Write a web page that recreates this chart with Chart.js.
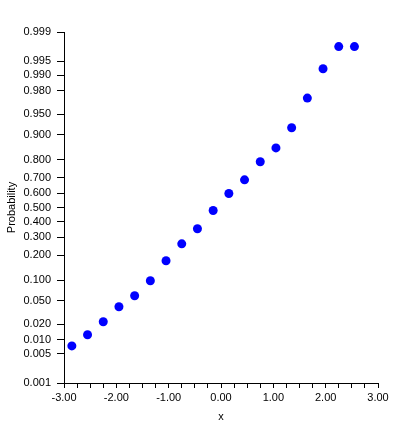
<!DOCTYPE html>
<html>
<head>
<meta charset="utf-8">
<script src="https://cdn.jsdelivr.net/npm/chart.js@4/dist/chart.umd.min.js"></script>
<style>
  html, body { margin: 0; padding: 0; background: #fff; }
  #wrap { width: 401px; height: 436px; }
</style>
</head>
<body>
<div id="wrap"><canvas id="myChart"></canvas></div>
<script>
// sample values (x) and their plotted probabilities
const xValues = [-2.85, -2.55, -2.25, -1.95, -1.65, -1.35, -1.05, -0.75, -0.45, -0.15,
  0.15, 0.45, 0.75, 1.05, 1.35, 1.65, 1.95, 2.25, 2.55];
const probValues = [0.0074, 0.0125, 0.0221, 0.0402, 0.060, 0.0985, 0.174, 0.261, 0.354, 0.479,
  0.597, 0.687, 0.790, 0.853, 0.920, 0.973, 0.9927, 0.9977, 0.9977];
const probTicks = [0.001, 0.005, 0.010, 0.020, 0.050, 0.100, 0.200, 0.300, 0.400, 0.500,
  0.600, 0.700, 0.800, 0.900, 0.950, 0.980, 0.990, 0.995, 0.999];

// inverse normal cdf (Acklam)
function probit(p) {
  const a = [-39.69683028665376, 220.9460984245205, -275.9285104469687, 138.3577518672690, -30.66479806614716, 2.506628277459239];
  const b = [-54.47609879822406, 161.5858368580409, -155.6989798598866, 66.80131188771972, -13.28068155288572];
  const c = [-0.007784894002430293, -0.3223964580411365, -2.400758277161838, -2.549732539343734, 4.374664141464968, 2.938163982698783];
  const d = [0.007784695709041462, 0.3224671290700398, 2.445134137142996, 3.754408661907416];
  const pl = 0.02425;
  let q, r;
  if (p < pl) {
    q = Math.sqrt(-2 * Math.log(p));
    return (((((c[0]*q+c[1])*q+c[2])*q+c[3])*q+c[4])*q+c[5]) / ((((d[0]*q+d[1])*q+d[2])*q+d[3])*q+1);
  }
  if (p > 1 - pl) {
    q = Math.sqrt(-2 * Math.log(1 - p));
    return -(((((c[0]*q+c[1])*q+c[2])*q+c[3])*q+c[4])*q+c[5]) / ((((d[0]*q+d[1])*q+d[2])*q+d[3])*q+1);
  }
  q = p - 0.5; r = q * q;
  return (((((a[0]*r+a[1])*r+a[2])*r+a[3])*r+a[4])*r+a[5])*q / (((((b[0]*r+b[1])*r+b[2])*r+b[3])*r+b[4])*r+1);
}

function normcdf(z) {
  // bisection on probit, good enough for hover
  let lo = 1e-9, hi = 1 - 1e-9;
  for (let i = 0; i < 60; i++) {
    const mid = (lo + hi) / 2;
    if (probit(mid) < z) lo = mid; else hi = mid;
  }
  return (lo + hi) / 2;
}

class ProbitScale extends Chart.LinearScale {
  determineDataLimits() {
    this.min = probTicks[0];
    this.max = probTicks[probTicks.length - 1];
  }
  buildTicks() {
    return probTicks.map(v => ({ value: v }));
  }
  configure() {
    super.configure();
    this._zMin = probit(this.min);
    this._zMax = probit(this.max);
  }
  getPixelForValue(value) {
    return this.getPixelForDecimal((probit(value) - this._zMin) / (this._zMax - this._zMin));
  }
  getValueForPixel(pixel) {
    const dec = this.getDecimalForPixel(pixel);
    return normcdf(this._zMin + dec * (this._zMax - this._zMin));
  }
}
ProbitScale.id = "probit";
ProbitScale.defaults = {};
Chart.register(ProbitScale);

const font = { family: "'Liberation Sans', Arial, sans-serif", size: 11 };

const data = {
  datasets: [
    {
      label: "x",
      data: xValues.map((x, i) => ({ x: x, y: probValues[i] })),
      backgroundColor: "#0000ff",
      borderColor: "#0000ff",
      borderWidth: 0,
      pointRadius: 4.5,
      pointHoverRadius: 4.5,
    },
  ],
};

const config = {
  type: "scatter",
  data: data,
  options: {
    responsive: true,
    maintainAspectRatio: false,
    animation: false,
    layout: { padding: { top: 32, right: 23, left: 0, bottom: 0 } },
    plugins: {
      legend: { display: false },
      tooltip: { enabled: false },
    },
    scales: {
      x: {
        type: "linear",
        min: -3,
        max: 3,
        afterFit: (scale) => { scale.height = 53; },
        border: { display: true, color: "#000", width: 1 },
        grid: { drawOnChartArea: false, color: "#000", tickLength: 5 },
        ticks: {
          stepSize: 0.25,
          autoSkip: false,
          maxRotation: 0,
          padding: 3,
          color: "#000",
          font: font,
          callback: (v) => (Math.abs(v - Math.round(v)) < 1e-6 ? v.toFixed(2) : ""),
        },
        title: { display: true, text: "x", color: "#000", font: font, padding: { top: 2, bottom: 12 } },
      },
      y: {
        type: "probit",
        afterFit: (scale) => { scale.width = 64; },
        border: { display: true, color: "#000", width: 1 },
        grid: { drawOnChartArea: false, color: "#000", tickLength: 7 },
        ticks: {
          autoSkip: false,
          padding: 6,
          color: "#000",
          font: font,
          callback: (v) => v.toFixed(3),
        },
        title: { display: true, text: "Probability", color: "#000", font: font, padding: { top: 5, bottom: 0 } },
      },
    },
  },
};

const ctx = document.getElementById("myChart").getContext("2d");
new Chart(ctx, config);
</script>
</body>
</html>
